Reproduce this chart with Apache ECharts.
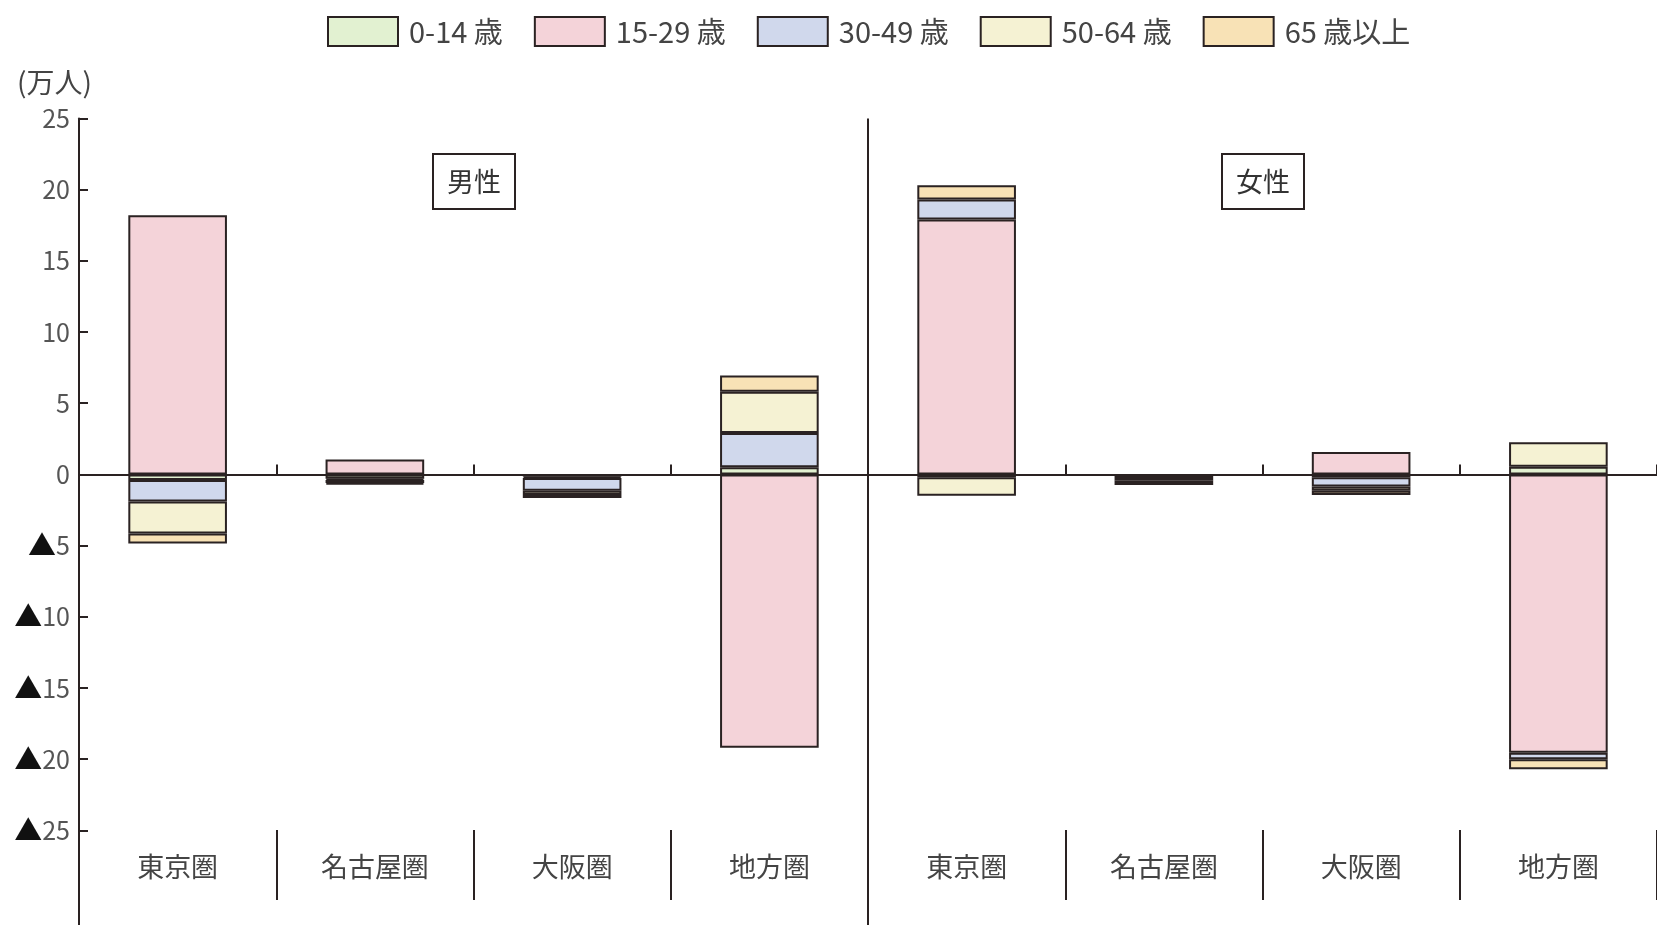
<!DOCTYPE html>
<html lang="ja">
<head>
<meta charset="utf-8">
<title>年齢階級別 転入超過数</title>
<script src="https://cdn.jsdelivr.net/npm/echarts@6/dist/echarts.min.js"></script>
<style>
  html, body { margin: 0; padding: 0; background: #fff; }
  #chart { width: 1657px; height: 925px; }
</style>
</head>
<body>
<div id="chart"></div>
<script>
// 男性4圏域 + 女性4圏域
const categories = ['東京圏', '名古屋圏', '大阪圏', '地方圏', '東京圏', '名古屋圏', '大阪圏', '地方圏'];
const ageGroups = ['0-14 歳', '15-29 歳', '30-49 歳', '50-64 歳', '65 歳以上'];

// 転入超過数（万人）、マイナスは転出超過
const age0to14  = [-0.4, -0.3, -0.15, 0.5, -0.2, -0.25, -0.2, 0.53];
const age15to29 = [18.2, 1.05, -0.1, -19.2, 17.9, -0.2, 1.57, -19.55];
const age30to49 = [-1.5, -0.1, -0.9, 2.4, 1.4, -0.15, -0.65, -0.45];
const age50to64 = [-2.25, -0.2, -0.3, 2.9, -1.3, -0.15, -0.3, 1.73];
const age65plus = [-0.7, -0.1, -0.2, 1.15, 1.0, null, -0.3, -0.7];

const yTicks = [-25, -20, -15, -10, -5, 0, 5, 10, 15, 20, 25];

const ageValues = [age0to14, age15to29, age30to49, age50to64, age65plus];
const ageColors = ['#e2f1d1', '#f4d3d9', '#d0d8ec', '#f5f2d3', '#f8e2b6'];

const FONT = '"Noto Sans CJK JP", "Noto Sans", sans-serif';
const LINE = '#2a2222';

const chart = echarts.init(document.getElementById('chart'), null, { renderer: 'canvas' });

const boxTitle = (text, left) => ({
  text,
  left,
  top: 154,
  padding: [14, 14],
  borderColor: LINE,
  borderWidth: 2,
  textStyle: { fontFamily: FONT, fontSize: 27, fontWeight: 'normal', color: '#333' }
});

chart.setOption({
  animation: false,
  textStyle: { fontFamily: FONT },
  title: [
    { text: '(万人)', left: 12, top: 63,
      textStyle: { fontFamily: FONT, fontSize: 28, fontWeight: 'normal', color: '#444' } },
    boxTitle('男性', 433),
    boxTitle('女性', 1222)
  ],
  legend: {
    data: ageGroups,
    left: 322,
    top: 11,
    icon: 'rect',
    itemWidth: 70,
    itemHeight: 29,
    itemGap: 31,
    itemStyle: { borderColor: LINE, borderWidth: 2 },
    textStyle: { fontFamily: FONT, fontSize: 29, color: '#444', padding: [0, 0, 0, 6] }
  },
  grid: [
    { left: 79, right: 0, top: 118.4, bottom: 0 },
    { left: 79, right: 0, top: 830, height: 70 }
  ],
  xAxis: [
    {
      type: 'category',
      gridIndex: 0,
      data: categories,
      axisLine: { onZero: true, lineStyle: { color: LINE, width: 2 } },
      axisTick: {
        show: true, inside: true, length: 10,
        interval: (i) => i !== 0 && i !== 4,
        lineStyle: { color: LINE, width: 2 }
      },
      axisLabel: { show: false },
      // 男性・女性の境界線
      splitLine: {
        show: true,
        showMinLine: false,
        showMaxLine: false,
        interval: (i) => i === 0 || i === 4,
        lineStyle: { color: LINE, width: 2 }
      }
    },
    {
      type: 'category',
      gridIndex: 1,
      data: categories,
      position: 'bottom',
      axisLine: { show: false },
      axisTick: { show: false },
      axisLabel: {
        inside: true, margin: 33, verticalAlign: 'middle',
        fontFamily: FONT, fontSize: 27, color: '#444'
      },
      splitLine: {
        show: true,
        interval: (i) => i !== 0 && i !== 4,
        lineStyle: { color: LINE, width: 2 }
      }
    }
  ],
  yAxis: [
    {
      type: 'value',
      gridIndex: 0,
      min: -31.64,
      max: 25,
      axisLine: { show: true, lineStyle: { color: LINE, width: 2 } },
      axisTick: {
        show: true, inside: true, length: 9,
        customValues: yTicks,
        lineStyle: { color: LINE, width: 2 }
      },
      axisLabel: {
        customValues: yTicks,
        margin: 9,
        fontFamily: FONT,
        fontSize: 25,
        color: '#555',
        formatter: (v) => (v < 0 ? '{tri|▲}' + (-v) : String(v)),
        rich: { tri: { color: '#111', fontSize: 28, fontFamily: FONT } }
      },
      splitLine: { show: false }
    },
    {
      type: 'value',
      gridIndex: 1,
      min: 0,
      max: 1,
      show: false
    }
  ],
  series: ageGroups.map((name, k) => ({
    name,
    type: 'bar',
    stack: 'total',
    xAxisIndex: 0,
    yAxisIndex: 0,
    barWidth: '50%',
    data: ageValues[k],
    itemStyle: { color: ageColors[k], borderColor: LINE, borderWidth: 2 }
  }))
});
</script>
</body>
</html>
